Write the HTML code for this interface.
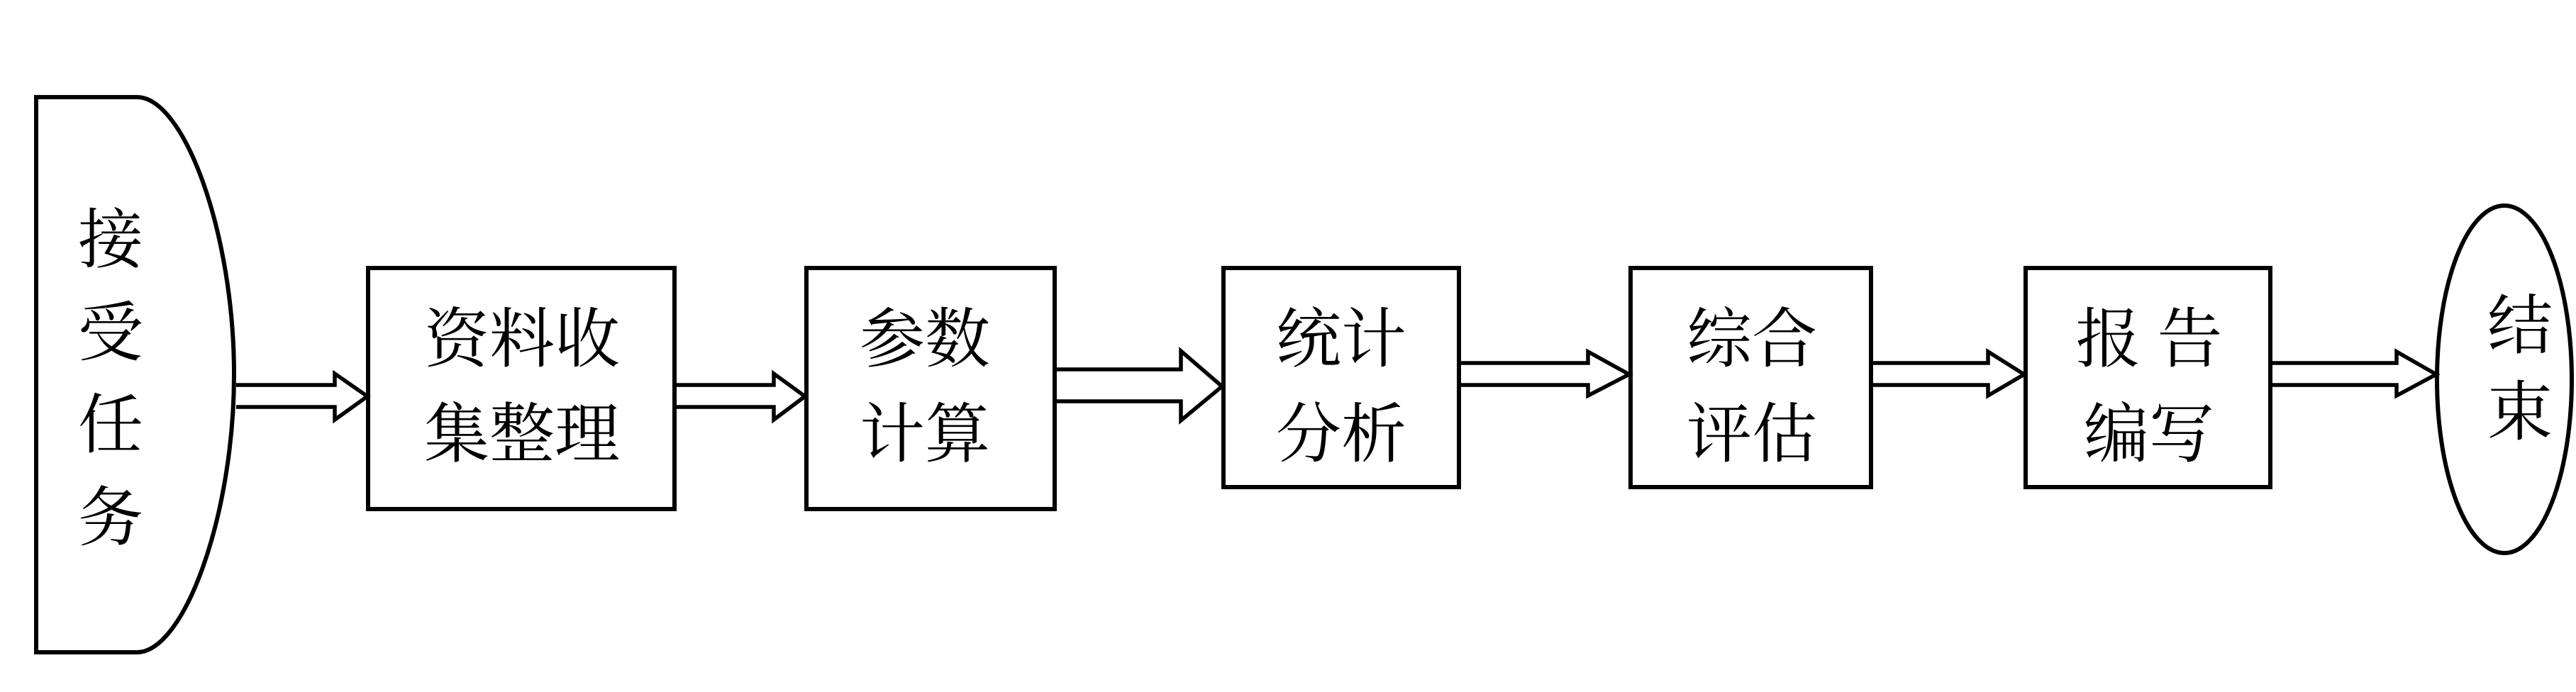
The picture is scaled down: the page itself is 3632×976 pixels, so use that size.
<!DOCTYPE html>
<html><head><meta charset="utf-8"><style>
html,body{margin:0;padding:0;background:#fff;}
svg{display:block;}
text{font-family:"Liberation Serif","Noto Serif CJK SC",serif;font-size:92px;fill:#000;}
</style></head><body>
<svg width="3632" height="976" viewBox="0 0 3632 976" xmlns="http://www.w3.org/2000/svg">
<g fill="none" stroke="#000" stroke-width="6">
<path d="M51,137 L193,137 C260,137 330,330 330,528 C330,726 260,920 193,920 L51,920 Z" fill="#fff"/>
<rect x="519" y="378" width="432" height="340"/>
<rect x="1137" y="378" width="350" height="340"/>
<rect x="1725" y="378" width="332" height="309"/>
<rect x="2299" y="378" width="339" height="309"/>
<rect x="2856" y="378" width="345" height="309"/>
<ellipse cx="3531" cy="535" rx="95" ry="245"/>
</g>
<g fill="#fff" stroke="#000" stroke-width="5.5" stroke-linejoin="miter">
<path d="M333,543 L472,543 L472,527 L518,559 L472,592 L472,574 L333,574"/>
<path d="M954,543 L1091,543 L1091,527 L1135,559 L1091,592 L1091,574 L954,574"/>
<path d="M1490,521 L1665,521 L1665,495 L1723,545 L1665,593 L1665,566 L1490,566"/>
<path d="M2060,512 L2239,512 L2239,496 L2297,528 L2239,558 L2239,543 L2060,543"/>
<path d="M2641,512 L2803,512 L2803,496 L2854,528 L2803,558 L2803,543 L2641,543"/>
<path d="M3204,512 L3379,512 L3379,496 L3435,528 L3379,558 L3379,543 L3204,543"/>
</g>
<g text-anchor="middle" dominant-baseline="central">
<text x="156" y="339" font-size="84">接</text>
<text x="156" y="470" font-size="84">受</text>
<text x="156" y="600" font-size="84">任</text>
<text x="156" y="731" font-size="84">务</text>
<text x="736" y="479">资料收</text>
<text x="736" y="613">集整理</text>
<text x="1304" y="479">参数</text>
<text x="1304" y="613">计算</text>
<text x="1891" y="479">统计</text>
<text x="1891" y="613">分析</text>
<text x="2470" y="479">综合</text>
<text x="2470" y="613">评估</text>
<text x="3030" y="479">报 告</text>
<text x="3030" y="613">编写</text>
<text x="3553" y="460" font-size="84">结</text>
<text x="3553" y="582" font-size="84">束</text>
</g>
</svg>
</body></html>
